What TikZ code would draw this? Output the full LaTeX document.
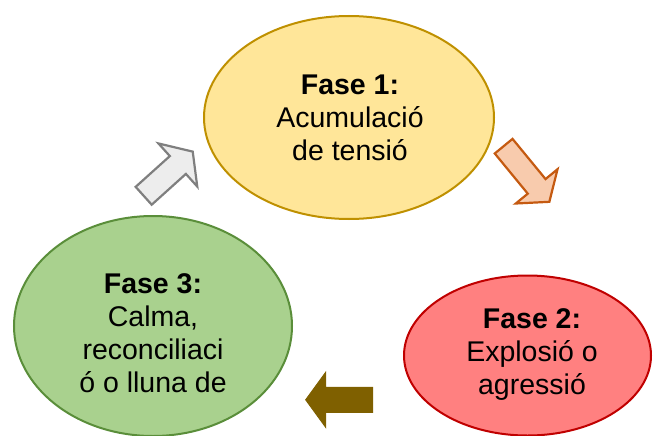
\documentclass[tikz,border=0pt]{standalone}
\usepackage{fontspec}
\setmainfont{Liberation Sans}
\usetikzlibrary{shapes.geometric}
\definecolor{yfill}{HTML}{FFE699}
\definecolor{yline}{HTML}{BF9000}
\definecolor{gfill}{HTML}{A9D18E}
\definecolor{gline}{HTML}{5A8E3A}
\definecolor{rfill}{HTML}{FF8080}
\definecolor{rline}{HTML}{C00000}
\definecolor{ofill}{HTML}{F8CBAD}
\definecolor{oline}{HTML}{C55A11}
\definecolor{afill}{HTML}{EDEDED}
\definecolor{aline}{HTML}{7F7F7F}
\definecolor{bfill}{HTML}{7F6000}
\begin{document}
\begin{tikzpicture}[x=1pt,y=-1pt,
  phase/.style={ellipse, line width=2pt, inner sep=0pt},
  phasetext/.style={align=center, font=\fontsize{28.5}{33}\selectfont, inner sep=0pt},
  blk/.style={line width=2.2pt, line join=miter}]
\useasboundingbox (0,0) rectangle (653,436);
% phases
\node[phase, draw=yline, fill=yfill, minimum width=290pt, minimum height=203pt] (e1) at (349,117.5) {};
\node[phasetext] (t1) at (350,118.3) {\textbf{Fase 1:}\\Acumulació\\de tensió};
\node[phase, draw=gline, fill=gfill, minimum width=278pt, minimum height=220pt] (e3) at (153,326) {};
\node[phasetext] (t3) at (153,333.3) {\textbf{Fase 3:}\\Calma,\\reconciliaci\\ó o lluna de};
\node[phase, draw=rline, fill=rfill, minimum width=247pt, minimum height=160pt] (e2) at (527.5,355.5) {};
\node[phasetext] (t2) at (532,354.8) {\textbf{Fase 2:}\\Explosió o\\agressió};
% block arrows
\begin{scope}[shift={(526.5,174)}, rotate=-50.6]
  \draw[blk, draw=oline, fill=ofill] (-36,-11.5) -- (16,-11.5) -- (16,-27) -- (36,0) -- (16,27) -- (16,11.5) -- (-36,11.5) -- cycle;
\end{scope}
\begin{scope}[shift={(168.2,173.7)}, rotate=42]
  \draw[blk, draw=aline, fill=afill] (-33,-12) -- (13,-12) -- (13,-29) -- (33,0) -- (13,29) -- (13,12) -- (-33,12) -- cycle;
\end{scope}
\begin{scope}[shift={(339.2,399.8)}, rotate=180]
  \draw[line width=1pt, draw=bfill, fill=bfill] (-33.5,-12.5) -- (13.5,-12.5) -- (13.5,-27.5) -- (33.5,0) -- (13.5,27.5) -- (13.5,12.5) -- (-33.5,12.5) -- cycle;
\end{scope}
\end{tikzpicture}
\end{document}
